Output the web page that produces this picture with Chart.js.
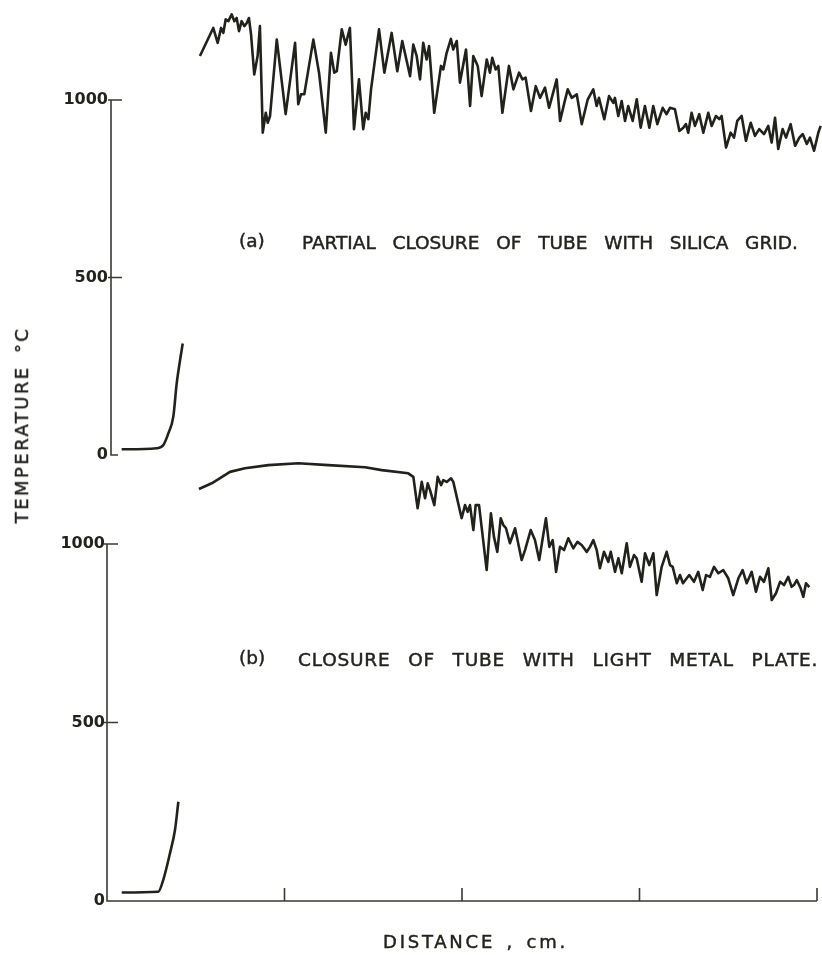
<!DOCTYPE html>
<html>
<head>
<meta charset="utf-8">
<script src="https://cdn.jsdelivr.net/npm/chart.js@4.4.1/dist/chart.umd.min.js"></script>
<style>
  html, body { margin: 0; padding: 0; background: #ffffff; overflow: hidden; }
  #wrap { position: relative; width: 822px; height: 955px; background: #ffffff; }
  canvas { position: absolute; left: 0; top: 0; }
  .lbl { position: absolute; white-space: pre; font-family: "DejaVu Sans", sans-serif; color: #23231e;
         -webkit-text-stroke: 0.45px #23231e; line-height: 1; transform: translateY(-50%); }
  .rot { position: absolute; white-space: pre; font-family: "DejaVu Sans", sans-serif; color: #23231e;
         -webkit-text-stroke: 0.45px #23231e; line-height: 1; transform: translate(-50%, -50%) rotate(-90deg); }
</style>
</head>
<body>
<div id="wrap">
  <canvas id="chartA" width="822" height="955"></canvas>
  <canvas id="chartB" width="822" height="955"></canvas>
  <div class="lbl" id="capAtag" style="left:239px; top:241px; font-size:18.5px;">(a)</div>
  <div class="lbl" id="capA" style="left:302px; top:243px; font-size:18.5px; word-spacing:11px;">PARTIAL CLOSURE OF TUBE WITH SILICA GRID.</div>
  <div class="lbl" id="capBtag" style="left:239px; top:658px; font-size:18.5px;">(b)</div>
  <div class="lbl" id="capB" style="left:298px; top:660px; font-size:18.5px; word-spacing:11px;">CLOSURE OF TUBE WITH LIGHT METAL PLATE.</div>
  <div class="rot" id="yTitle" style="left:22px; top:425px; font-size:18px; word-spacing:4px;">TEMPERATURE °C</div>
  <div class="lbl" id="xTitle" style="left:383px; top:942px; font-size:18px; word-spacing:3px;">DISTANCE , cm.</div>
</div>
<script>
// ---------------- data (distance in axis units 0..4, temperature in °C) ----------------
const X_TICKS = [1, 2, 3, 4];
const Y_TICKS = [0, 500, 1000];
const Y_TICK_LABELS = ['0', '500', '1000'];

// (a) partial closure of tube with silica grid
const DIST_A_INLET = [0.060, 0.257, 0.295, 0.323, 0.351, 0.370, 0.389, 0.404];
const TEMP_A_INLET = [16, 19, 28, 61, 108, 201, 267, 314];

const DIST_A = [
  0.501, 0.576, 0.601, 0.620, 0.633, 0.646, 0.661, 0.680, 0.695, 0.708,
  0.721, 0.736, 0.751, 0.765, 0.777, 0.789, 0.807, 0.826, 0.839, 0.855,
  0.872, 0.883, 0.896, 0.934, 0.984, 1.037, 1.055, 1.070, 1.089, 1.140,
  1.172, 1.210, 1.239, 1.258, 1.272, 1.300, 1.322, 1.346, 1.369, 1.397,
  1.421, 1.435, 1.450, 1.465, 1.510, 1.540, 1.581, 1.613, 1.641, 1.685,
  1.703, 1.722, 1.741, 1.759, 1.778, 1.792, 1.821, 1.859, 1.872, 1.891,
  1.915, 1.928, 1.948, 1.966, 2.000, 2.023, 2.041, 2.066, 2.088, 2.117,
  2.135, 2.148, 2.167, 2.182, 2.205, 2.242, 2.267, 2.299, 2.318, 2.336,
  2.366, 2.393, 2.417, 2.445, 2.468, 2.511, 2.530, 2.554, 2.573, 2.596,
  2.624, 2.652, 2.686, 2.717, 2.736, 2.749, 2.779, 2.806, 2.830, 2.839,
  2.858, 2.877, 2.896, 2.914, 2.939, 2.962, 2.984, 3.008, 3.033, 3.055,
  3.078, 3.108, 3.130, 3.149, 3.177, 3.202, 3.224, 3.239, 3.252, 3.271,
  3.290, 3.314, 3.337, 3.365, 3.384, 3.408, 3.427, 3.440, 3.465, 3.491,
  3.510, 3.528, 3.553, 3.577, 3.604, 3.628, 3.652, 3.679, 3.703, 3.722,
  3.741, 3.759, 3.784, 3.803, 3.829, 3.854, 3.878, 3.897, 3.920, 3.938,
  3.961, 3.985, 3.998
];
const TEMP_A = [
  1124, 1203, 1161, 1203, 1189, 1227, 1222, 1241, 1222, 1231,
  1194, 1222, 1208, 1217, 1231, 1185, 1072, 1124, 1208, 908,
  964, 936, 955, 1170, 960, 1161, 988, 1016, 1016, 1170,
  1077, 908, 1133, 1077, 1081, 1199, 1156, 1203, 918, 1058,
  918, 964, 946, 1030, 1199, 1077, 1189, 1081, 1166, 1067,
  1156, 1124, 1058, 1161, 1114, 1152, 964, 1096, 1086, 1133,
  1172, 1142, 1166, 1049, 1142, 983, 1124, 1096, 1011, 1114,
  1077, 1119, 1086, 1096, 964, 1096, 1030, 1077, 1058, 1063,
  969, 1039, 1006, 1035, 978, 1058, 941, 992, 1030, 1006,
  1016, 932, 1002, 1030, 983, 1006, 946, 1011, 992, 1006,
  955, 997, 941, 983, 941, 1002, 922, 983, 922, 983,
  932, 978, 960, 978, 974, 913, 922, 932, 908, 964,
  927, 960, 908, 964, 927, 955, 946, 955, 866, 908,
  894, 941, 955, 885, 936, 899, 918, 904, 927, 880,
  950, 862, 918, 894, 932, 871, 894, 904, 876, 894,
  857, 908, 927
];

// (b) closure of tube with light metal plate
const DIST_B_INLET = [0.083, 0.289, 0.317, 0.355, 0.383, 0.402];
const TEMP_B_INLET = [24, 26, 59, 134, 199, 278];

const DIST_B = [
  0.518, 0.590, 0.693, 0.777, 0.909, 1.078, 1.247, 1.454, 1.548, 1.697,
  1.726, 1.750, 1.773, 1.792, 1.807, 1.820, 1.844, 1.863, 1.882, 1.895,
  1.914, 1.938, 1.951, 1.998, 2.017, 2.032, 2.045, 2.064, 2.077, 2.096,
  2.139, 2.163, 2.180, 2.199, 2.218, 2.233, 2.248, 2.270, 2.299, 2.336,
  2.355, 2.387, 2.411, 2.435, 2.473, 2.492, 2.511, 2.530, 2.552, 2.575,
  2.599, 2.627, 2.650, 2.674, 2.703, 2.721, 2.740, 2.759, 2.777, 2.800,
  2.824, 2.838, 2.862, 2.881, 2.900, 2.928, 2.946, 2.969, 2.984, 3.012,
  3.031, 3.055, 3.078, 3.097, 3.125, 3.153, 3.172, 3.187, 3.210, 3.228,
  3.245, 3.280, 3.307, 3.331, 3.356, 3.375, 3.397, 3.420, 3.444, 3.472,
  3.500, 3.528, 3.557, 3.581, 3.604, 3.632, 3.656, 3.679, 3.701, 3.726,
  3.745, 3.769, 3.792, 3.814, 3.838, 3.857, 3.870, 3.886, 3.908, 3.923,
  3.938, 3.957
];
const TEMP_B = [
  1154, 1170, 1202, 1212, 1221, 1226, 1221, 1215, 1207, 1198,
  1188, 1100, 1174, 1128, 1170, 1151, 1109, 1188, 1165, 1179,
  1174, 1184, 1174, 1072, 1109, 1090, 1109, 1039, 1109, 1109,
  927, 1086, 1020, 978, 1072, 1053, 1044, 1002, 1044, 955,
  983, 1039, 1011, 955, 1072, 992, 1011, 922, 992, 983,
  1016, 988, 1006, 997, 978, 992, 1011, 983, 932, 978,
  950, 978, 922, 960, 918, 1002, 936, 969, 960, 894,
  974, 941, 974, 857, 936, 978, 941, 936, 890, 913,
  890, 913, 894, 922, 871, 913, 908, 936, 918, 927,
  904, 857, 904, 927, 890, 922, 866, 908, 894, 932,
  843, 862, 894, 885, 908, 880, 885, 899, 876, 852,
  890, 879
];

// ---------------- drawing ----------------
const INK = '#22221c';
const AXIS_INK = '#3a3a33';
const toPts = (xs, ys) => xs.map((x, i) => ({ x: x, y: ys[i] }));

const sketchAxes = {
  id: 'sketchAxes',
  beforeDatasetsDraw(chart, args, opts) {
    const { ctx } = chart;
    const x = chart.scales.x, y = chart.scales.y;
    const x0 = x.getPixelForValue(0);
    const yTop = y.getPixelForValue(Y_TICKS[Y_TICKS.length - 1]);
    const yBot = y.getPixelForValue(0);
    ctx.save();
    ctx.strokeStyle = AXIS_INK;
    ctx.lineWidth = 1.6;
    ctx.lineCap = 'butt';
    ctx.beginPath();
    ctx.moveTo(x0, yTop);
    ctx.lineTo(x0, yBot + 0.8);
    Y_TICKS.forEach(v => {
      if (v === 0) return;
      const py = y.getPixelForValue(v);
      ctx.moveTo(x0 - 3, py);
      ctx.lineTo(x0 + 11, py);
    });
    if (opts.xAxis) {
      const xEnd = x.getPixelForValue(X_TICKS[X_TICKS.length - 1]);
      ctx.moveTo(x0 - 0.8, yBot);
      ctx.lineTo(xEnd, yBot);
      X_TICKS.forEach(v => {
        const px = x.getPixelForValue(v);
        ctx.moveTo(px, yBot);
        ctx.lineTo(px, yBot - 13);
      });
    } else {
      ctx.moveTo(x0 - 0.8, yBot);
      ctx.lineTo(x0 + 7, yBot);
    }
    ctx.stroke();
    ctx.restore();
  }
};

function makeChart(id, inlet, main, area, drawX, labelPad) {
  const yWidth = 60;
  return new Chart(document.getElementById(id), {
    type: 'line',
    data: {
      datasets: [
        { data: inlet, borderColor: INK, borderWidth: 2.6, pointRadius: 0, tension: 0.4,
          cubicInterpolationMode: 'monotone', clip: false, fill: false },
        { data: main, borderColor: INK, borderWidth: 2.6, pointRadius: 0, tension: 0,
          clip: false, fill: false, borderJoinStyle: 'round' }
      ]
    },
    options: {
      responsive: false,
      animation: false,
      events: [],
      layout: { padding: { left: area.left - yWidth, right: 822 - area.right, top: area.top, bottom: 955 - area.bottom } },
      plugins: { legend: { display: false }, tooltip: { enabled: false }, sketchAxes: { xAxis: drawX } },
      scales: {
        x: { type: 'linear', min: 0, max: 4, display: false },
        y: {
          type: 'linear', min: 0, max: 1000, display: true,
          afterBuildTicks: s => { s.ticks = Y_TICKS.map(v => ({ value: v })); },
          afterFit: s => { s.width = yWidth; },
          grid: { display: false, drawTicks: false, tickLength: 0 },
          border: { display: false },
          ticks: {
            padding: labelPad,
            color: '#23231e',
            font: { family: 'DejaVu Sans', size: 16, weight: 'bold' },
            callback: (v) => Y_TICK_LABELS[Y_TICKS.indexOf(v)]
          }
        }
      }
    },
    plugins: [sketchAxes]
  });
}

makeChart('chartA', toPts(DIST_A_INLET, TEMP_A_INLET), toPts(DIST_A, TEMP_A),
  { left: 111, right: 821, top: 100, bottom: 455 }, false, 3);
makeChart('chartB', toPts(DIST_B_INLET, TEMP_B_INLET), toPts(DIST_B, TEMP_B),
  { left: 107, right: 817, top: 544, bottom: 901 }, true, 2);

// fit lettering widths to the hand-lettered original
function fitText(id, target) {
  const el = document.getElementById(id);
  el.style.letterSpacing = '0px';
  const w = el.offsetWidth;
  const n = el.textContent.length;
  el.style.letterSpacing = ((target - w) / Math.max(1, n - 1)) + 'px';
}
fitText('capA', 496);
fitText('capB', 519);
fitText('yTitle', 194);
fitText('xTitle', 182);
</script>
</body>
</html>
